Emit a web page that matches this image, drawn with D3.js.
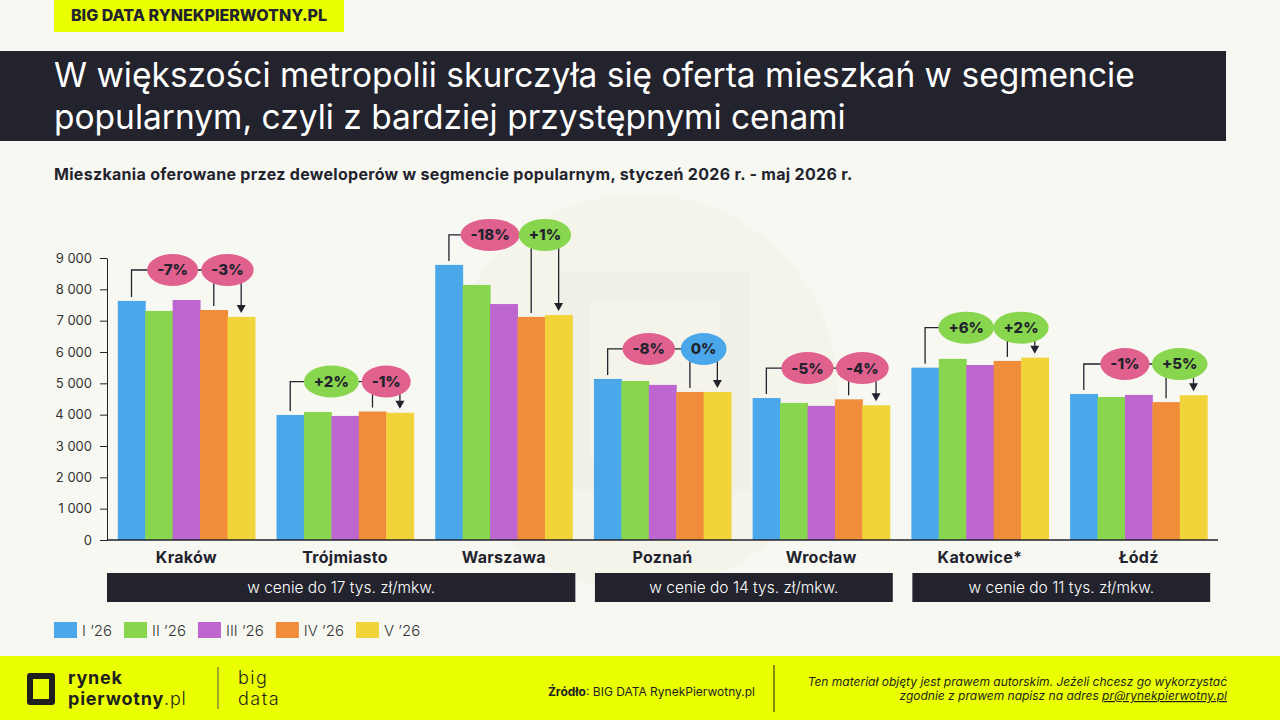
<!DOCTYPE html>
<html>
<head>
<meta charset="utf-8">
<script src="https://cdn.jsdelivr.net/npm/d3@7"></script>
<style>
  body { margin: 0; background: #f8f8f3; }
  svg { display: block; font-family: Inter, "Noto Sans", sans-serif; }
</style>
</head>
<body>
<div id="chart"></div>
<script>
var cities = ["Kraków", "Trójmiasto", "Warszawa", "Poznań", "Wrocław", "Katowice*", "Łódź"];
var months = ["I ’26", "II ’26", "III ’26", "IV ’26", "V ’26"];
var colors = ["#4aa8ea", "#88d64e", "#bd66d0", "#f08c3a", "#f0d43a"];

var jan = [7630, 3990, 8780, 5140, 4530, 5500, 4660];
var feb = [7310, 4085, 8140, 5075, 4375, 5780, 4565];
var mar = [7660, 3960, 7530, 4950, 4280, 5585, 4630];
var apr = [7340, 4100, 7120, 4725, 4490, 5715, 4400];
var may = [7120, 4060, 7180, 4725, 4300, 5820, 4620];

// badge labels: I -> V and IV -> V
var changeAll = ["-7%", "+2%", "-18%", "-8%", "-5%", "+6%", "-1%"];
var changeLast = ["-3%", "-1%", "+1%", "0%", "-4%", "+2%", "+5%"];

var priceGroups = [
  { label: "w cenie do 17 tys. zł/mkw.", from: "Kraków", to: "Warszawa" },
  { label: "w cenie do 14 tys. zł/mkw.", from: "Poznań", to: "Wrocław" },
  { label: "w cenie do 11 tys. zł/mkw.", from: "Katowice*", to: "Łódź" }
];
var yTicks = [0, 1000, 2000, 3000, 4000, 5000, 6000, 7000, 8000, 9000];

var series = [jan, feb, mar, apr, may];
var dark = "#22232d";

var svg = d3.select("#chart").append("svg")
    .attr("width", 1280)
    .attr("height", 720);

svg.append("rect").attr("width", 1280).attr("height", 720).attr("fill", "#f8f8f3");

// faint watermark
var wm = svg.append("g");
wm.append("circle").attr("cx", 640).attr("cy", 392).attr("r", 198).attr("fill", "#f4f4eb");
wm.append("path")
    .attr("d", "M560,272 H750 V490 H560 Z M590,300 V460 H720 V300 Z")
    .attr("fill", "#f0f0e6").attr("fill-rule", "evenodd");

// header tag
svg.append("rect").attr("x", 54).attr("y", 0).attr("width", 290).attr("height", 32).attr("fill", "#eaff00");
svg.append("text").attr("x", 199).attr("y", 21).attr("text-anchor", "middle")
    .attr("font-size", 16).attr("font-weight", 800).attr("fill", dark)
    .text("BIG DATA RYNEKPIERWOTNY.PL");

// title band
svg.append("rect").attr("x", 0).attr("y", 51).attr("width", 1226).attr("height", 90).attr("fill", dark);
var titleLines = ["W większości metropolii skurczyła się oferta mieszkań w segmencie",
                  "popularnym, czyli z bardziej przystępnymi cenami"];
svg.selectAll(".title").data(titleLines).enter().append("text")
    .attr("x", 54).attr("y", function (d, i) { return 87 + i * 42; })
    .attr("font-size", 33.5).attr("font-weight", 400).attr("fill", "#fff")
    .text(function (d) { return d; });

svg.append("text").attr("x", 54).attr("y", 180)
    .attr("font-size", 16).attr("font-weight", 700).attr("letter-spacing", 0.3).attr("fill", dark)
    .text("Mieszkania oferowane przez deweloperów w segmencie popularnym, styczeń 2026 r. - maj 2026 r.");

// scales
var x0 = d3.scaleBand().domain(cities).range([107, 1218]).paddingInner(0.136).paddingOuter(0.068);
var x1 = d3.scaleBand().domain(months).range([0, x0.bandwidth()]);
var y = d3.scaleLinear().domain([0, 9000]).range([540, 258]);

var fmt = function (v) { return d3.format(",")(v).replace(/,/g, " "); };

var yAxis = svg.append("g")
    .attr("transform", "translate(107,0)")
    .call(d3.axisLeft(y).tickValues(yTicks).tickSize(7).tickSizeOuter(0).tickPadding(8).tickFormat(fmt));
yAxis.selectAll("text").attr("font-size", 13).attr("fill", "#333").attr("font-family", "Inter, sans-serif");
yAxis.selectAll("line, path").attr("stroke", dark);

// bars
var groups = svg.selectAll(".city").data(cities).enter().append("g")
    .attr("transform", function (d) { return "translate(" + x0(d) + ",0)"; });

groups.selectAll("rect")
    .data(function (c, ci) { return series.map(function (s, si) { return { m: months[si], v: s[ci], col: colors[si] }; }); })
    .enter().append("rect")
    .attr("x", function (d) { return x1(d.m); })
    .attr("y", function (d) { return y(d.v); })
    .attr("width", x1.bandwidth() + 0.5)
    .attr("height", function (d) { return y(0) - y(d.v); })
    .attr("fill", function (d) { return d.col; });

svg.append("line").attr("x1", 107).attr("x2", 1218).attr("y1", y(0)).attr("y2", y(0))
    .attr("stroke", dark).attr("stroke-width", 1.5);

// category labels
svg.selectAll(".cat").data(cities).enter().append("text")
    .attr("x", function (d) { return x0(d) + x0.bandwidth() / 2; })
    .attr("y", 563)
    .attr("text-anchor", "middle").attr("font-size", 16).attr("font-weight", 700)
    .attr("letter-spacing", 0.3).attr("fill", dark)
    .text(function (d) { return d; });

// change badges
function badgeColor(t) {
    if (t.charAt(0) === "-") return "#e0608e";
    if (t.charAt(0) === "+") return "#88d64e";
    return "#4aa8ea";
}

groups.each(function (c, ci) {
    var g = d3.select(this);
    var vals = series.map(function (s) { return s[ci]; });
    var by = y(d3.max(vals)) - 30;
    var bw = x1.bandwidth();
    var cA = x1(months[2]), cB = x1(months[4]);
    var xI = x1(months[0]) + bw / 2, xIV = x1(months[3]) + bw / 2, xV = x1(months[4]) + bw / 2;

    var lines = g.append("g").attr("stroke", dark).attr("stroke-width", 1.3).attr("fill", "none");
    lines.append("path").attr("d", "M" + xI + "," + (y(vals[0]) - 4) + " V" + by + " H" + cB);
    lines.append("path").attr("d", "M" + xIV + "," + (y(vals[3]) - 4) + " V" + by);
    lines.append("path").attr("d", "M" + xV + "," + by + " V" + (y(vals[4]) - 10));
    g.append("path")
        .attr("d", "M" + (xV - 4.5) + "," + (y(vals[4]) - 12) + " h9 l-4.5,8 z")
        .attr("fill", dark);

    [[cA, changeAll[ci]], [cB, changeLast[ci]]].forEach(function (b) {
        var e = g.append("ellipse").attr("cx", b[0]).attr("cy", by).attr("ry", 16)
            .attr("fill", badgeColor(b[1]));
        var t = g.append("text").attr("x", b[0]).attr("y", by + 5.5)
            .attr("text-anchor", "middle").attr("font-size", 15).attr("font-weight", 800).attr("fill", dark)
            .text(b[1]);
        var w = t.node().getComputedTextLength();
        e.attr("rx", Math.max(w / 2 + 10, 17.5));
    });
});

// price group boxes
priceGroups.forEach(function (p, i) {
    var start = i === 0 ? x0.range()[0] : x0(p.from) + 1;
    var end = x0(p.to) + x0.bandwidth() + 3;
    svg.append("rect").attr("x", start).attr("y", 573).attr("width", end - start).attr("height", 29).attr("fill", dark);
    svg.append("text").attr("x", (start + end) / 2).attr("y", 593)
        .attr("text-anchor", "middle").attr("font-size", 15.5).attr("font-weight", 300).attr("fill", "#fff")
        .text(p.label);
});

// legend
var lx = 54;
months.forEach(function (m, i) {
    svg.append("rect").attr("x", lx).attr("y", 622).attr("width", 23).attr("height", 16).attr("fill", colors[i]);
    var t = svg.append("text").attr("x", lx + 28).attr("y", 636)
        .attr("font-size", 15).attr("font-weight", 300).attr("fill", "#333").text(m);
    lx += 28 + t.node().getComputedTextLength() + 12;
});

// footer
svg.append("rect").attr("x", 0).attr("y", 656).attr("width", 1280).attr("height", 64).attr("fill", "#eaff00");
svg.append("path")
    .attr("d", "M30,676 H52 V702 H30 Z")
    .attr("fill", "none").attr("stroke", "#1f1f1f").attr("stroke-width", 6).attr("stroke-linejoin", "round");
svg.append("text").attr("x", 68).attr("y", 684).attr("font-size", 18).attr("font-weight", 700)
    .attr("letter-spacing", 0.8).attr("fill", "#1f1f1f").text("rynek");
var pw = svg.append("text").attr("x", 68).attr("y", 705).attr("font-size", 18)
    .attr("letter-spacing", 0.8).attr("fill", "#1f1f1f");
pw.append("tspan").attr("font-weight", 700).text("pierwotny");
pw.append("tspan").attr("font-weight", 300).text(".pl");
svg.append("line").attr("x1", 218).attr("x2", 218).attr("y1", 667).attr("y2", 709).attr("stroke", "#555").attr("stroke-width", 1);
svg.append("text").attr("x", 238).attr("y", 684).attr("font-size", 18).attr("font-weight", 300)
    .attr("letter-spacing", 1.5).attr("fill", "#1f1f1f").text("big");
svg.append("text").attr("x", 238).attr("y", 705).attr("font-size", 18).attr("font-weight", 300)
    .attr("letter-spacing", 1.5).attr("fill", "#1f1f1f").text("data");

var src = svg.append("text").attr("x", 755).attr("y", 696).attr("text-anchor", "end").attr("font-size", 12).attr("fill", "#1f1f1f");
src.append("tspan").attr("font-weight", 700).text("Źródło");
src.append("tspan").text(": BIG DATA RynekPierwotny.pl");

svg.append("line").attr("x1", 774).attr("x2", 774).attr("y1", 665).attr("y2", 712).attr("stroke", "#1f1f1f").attr("stroke-width", 1);
svg.append("text").attr("x", 1227).attr("y", 686).attr("text-anchor", "end").attr("font-size", 12)
    .attr("font-style", "italic").attr("fill", "#1f1f1f")
    .text("Ten materiał objęty jest prawem autorskim. Jeżeli chcesz go wykorzystać");
var c2 = svg.append("text").attr("x", 1227).attr("y", 700).attr("text-anchor", "end").attr("font-size", 12)
    .attr("font-style", "italic").attr("fill", "#1f1f1f");
c2.append("tspan").text("zgodnie z prawem napisz na adres ");
c2.append("tspan").attr("text-decoration", "underline").text("pr@rynekpierwotny.pl");
</script>
</body>
</html>
